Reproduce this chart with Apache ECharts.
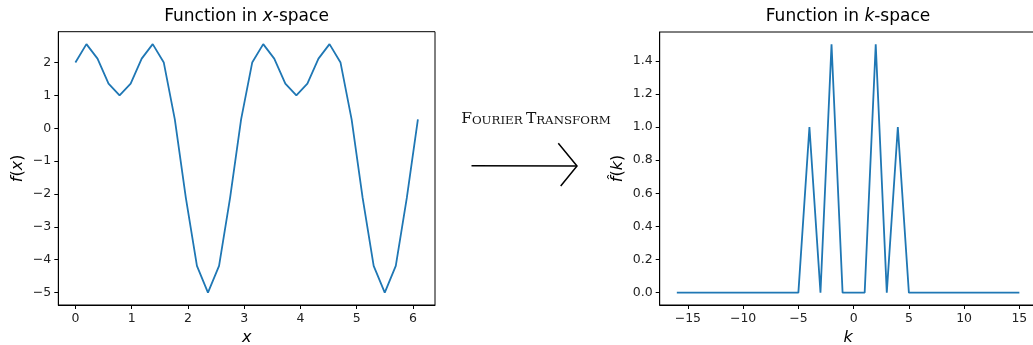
<!DOCTYPE html>
<html>
<head>
<meta charset="utf-8">
<script src="https://cdn.jsdelivr.net/npm/echarts@6/dist/echarts.min.js"></script>
<style>
html, body { margin: 0; padding: 0; background: #fff; }
#chart { width: 1033px; height: 345px; }
</style>
</head>
<body>
<div id="chart"></div>
<script>
var chart = echarts.init(document.getElementById('chart'), null, { renderer: 'canvas' });

// x-space samples
var xs = [0, 0.196, 0.393, 0.589, 0.785, 0.982, 1.178, 1.374, 1.571, 1.767, 1.963, 2.160,
    2.356, 2.553, 2.749, 2.945, 3.142, 3.338, 3.534, 3.731, 3.927, 4.123, 4.320, 4.516,
    4.712, 4.909, 5.105, 5.301, 5.498, 5.694, 5.890, 6.087]
var fx = [2.0, 2.56, 2.12, 1.36, 1.0, 1.36, 2.12, 2.56, 2.0, 0.27, -2.12, -4.19,
    -5.0, -4.19, -2.12, 0.27, 2.0, 2.56, 2.12, 1.36, 1.0, 1.36, 2.12, 2.56,
    2.0, 0.27, -2.12, -4.19, -5.0, -4.19, -2.12, 0.27]

// k-space samples
var ks = [-16, -15, -14, -13, -12, -11, -10, -9, -8, -7, -6, -5, -4, -3, -2, -1,
    0, 1, 2, 3, 4, 5, 6, 7, 8, 9, 10, 11, 12, 13, 14, 15]
var fk = [0, 0, 0, 0, 0, 0, 0, 0, 0, 0, 0, 0, 1.0, 0, 1.5, 0,
    0, 0, 1.5, 0, 1.0, 0, 0, 0, 0, 0, 0, 0, 0, 0, 0, 0]

// tick labels
var xTicks = [0, 1, 2, 3, 4, 5, 6]
var fxTicks = [-5, -4, -3, -2, -1, 0, 1, 2]
var kTicks = [-15, -10, -5, 0, 5, 10, 15]
var fkTicks = [0, 0.2, 0.4, 0.6, 0.8, 1.0, 1.2, 1.4]

var font = 'DejaVu Sans'
var blue = '#1f77b4'

function minus(v) {
    return String(v).replace('-', '\u2212')
}

function pairs(a, b) {
    var out = []
    for (var i = 0; i < a.length; i++) out.push([a[i], b[i]])
    return out
}

function axisCommon(ticks, fmt) {
    return {
        type: 'value',
        axisLine: { show: true, onZero: false, lineStyle: { color: '#000', width: 1 } },
        axisTick: { show: true, length: 4, lineStyle: { color: '#000', width: 1 }, customValues: ticks },
        axisLabel: { color: '#222', fontFamily: font, fontSize: 12.5, margin: 7, customValues: ticks, formatter: fmt },
        splitLine: { show: false }
    }
}

var xa0 = axisCommon(xTicks, minus)
xa0.gridIndex = 0; xa0.min = -0.304; xa0.max = 6.391
xa0.name = 'x'; xa0.nameLocation = 'middle'; xa0.nameGap = 24
xa0.nameTextStyle = { fontFamily: font, fontSize: 16, fontStyle: 'italic', color: '#000' }

var ya0 = axisCommon(fxTicks, minus)
ya0.gridIndex = 0; ya0.min = -5.378; ya0.max = 2.939
ya0.name = '{i|f}({i|x})'; ya0.nameLocation = 'middle'; ya0.nameGap = 32
ya0.nameTextStyle = { fontFamily: font, fontSize: 16, color: '#000',
    rich: { i: { fontFamily: font, fontSize: 16, fontStyle: 'italic', color: '#000' } } }

var xa1 = axisCommon(kTicks, minus)
xa1.gridIndex = 1; xa1.min = -17.55; xa1.max = 16.55
xa1.name = 'k'; xa1.nameLocation = 'middle'; xa1.nameGap = 24
xa1.nameTextStyle = { fontFamily: font, fontSize: 16, fontStyle: 'italic', color: '#000' }

var ya1 = axisCommon(fkTicks, function (v) { return v.toFixed(1) })
ya1.gridIndex = 1; ya1.min = -0.075; ya1.max = 1.575
ya1.name = '{i|f\u0302}({i|k})'; ya1.nameLocation = 'middle'; ya1.nameGap = 34
ya1.nameTextStyle = { fontFamily: font, fontSize: 16, color: '#000',
    rich: { i: { fontFamily: font, fontSize: 16, fontStyle: 'italic', color: '#000' } } }

chart.setOption({
    backgroundColor: '#fff',
    animation: false,
    grid: [
        { left: 58.3, top: 31.7, width: 376.7, height: 273.3, outerBoundsMode: 'none', containLabel: false,
            show: true, borderColor: '#000', borderWidth: 1, backgroundColor: 'transparent' },
        { left: 659.7, top: 32, width: 376.8, height: 273, outerBoundsMode: 'none', containLabel: false,
            show: true, borderColor: '#000', borderWidth: 1, backgroundColor: 'transparent' }
    ],
    xAxis: [xa0, xa1],
    yAxis: [ya0, ya1],
    series: [
        {
            type: 'line', xAxisIndex: 0, yAxisIndex: 0,
            data: pairs(xs, fx), showSymbol: false, symbol: 'none',
            lineStyle: { color: blue, width: 1.8 }
        },
        {
            type: 'line', xAxisIndex: 1, yAxisIndex: 1,
            data: pairs(ks, fk), showSymbol: false, symbol: 'none',
            lineStyle: { color: blue, width: 1.8 }
        }
    ],
    graphic: [
        {
            type: 'text', x: 246.5, y: 17,
            style: {
                text: 'Function in {i|x}-space', textAlign: 'center', textVerticalAlign: 'middle',
                fontFamily: font, fontSize: 17, fill: '#000',
                rich: { i: { fontFamily: font, fontSize: 17, fontStyle: 'italic', fill: '#000' } }
            }
        },
        {
            type: 'text', x: 848, y: 17,
            style: {
                text: 'Function in {i|k}-space', textAlign: 'center', textVerticalAlign: 'middle',
                fontFamily: font, fontSize: 17, fill: '#000',
                rich: { i: { fontFamily: font, fontSize: 17, fontStyle: 'italic', fill: '#000' } }
            }
        },
        {
            type: 'text', x: 536, y: 119,
            style: {
                text: '{c|F}{s|OURIER} {c|T}{s|RANSFORM}', textAlign: 'center', textVerticalAlign: 'middle',
                rich: {
                    c: { fontFamily: 'DejaVu Serif', fontSize: 15.5, fill: '#111', verticalAlign: 'bottom' },
                    s: { fontFamily: 'DejaVu Serif', fontSize: 11.8, fill: '#111', verticalAlign: 'bottom' }
                }
            }
        },
        {
            type: 'line',
            shape: { x1: 471.5, y1: 165.7, x2: 577, y2: 166 },
            style: { stroke: '#000', lineWidth: 1.5 }
        },
        {
            type: 'polyline',
            shape: { points: [[558.3, 143.3], [577, 166], [560.7, 186]] },
            style: { stroke: '#000', lineWidth: 1.5, fill: null }
        }
    ]
})
</script>
</body>
</html>
